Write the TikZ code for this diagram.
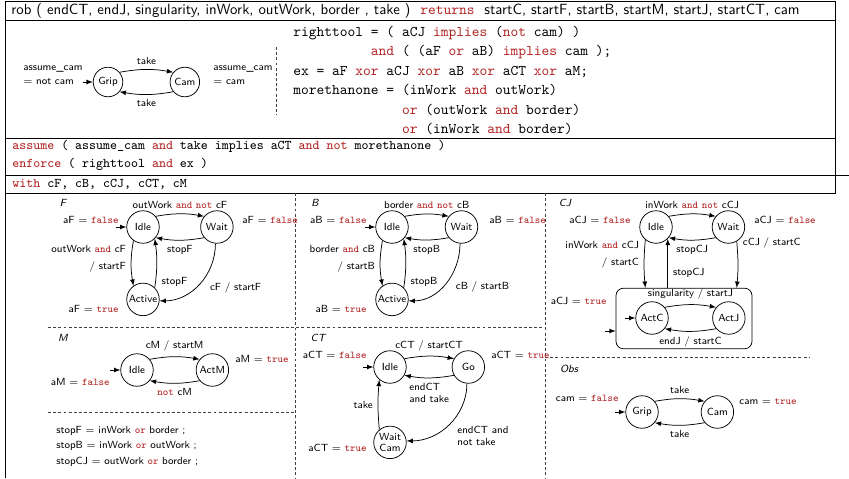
\documentclass[tikz,border=0pt]{standalone}
\usepackage{fontspec}
\usepackage{xcolor}
\usetikzlibrary{automata,positioning}

\definecolor{kwred}{RGB}{178,34,34}
\newcommand{\kw}[1]{\textcolor{kwred}{\texttt{#1}}}

\begin{document}
\begin{tikzpicture}
	[x=0.6766pt,y=-0.6766pt,>=latex,node distance=50pt,on grid,auto,
	font=\scriptsize\sffamily,line width=0.5pt,
	every state/.style={minimum size=22pt,inner sep=0pt},
	initial text={},initial distance=7pt,
	note/.style={inner sep=0pt},
	panel/.style={inner sep=0pt,font=\scriptsize\sffamily\itshape},
	sep/.style={dash pattern=on 2pt off 1.5pt,black!75}]
	\useasboundingbox (0,0) rectangle (849,478);

	% frame
	\draw (5,478) -- (5,1) -- (835,1) -- (835,193) -- (5,193);
	\draw (5,20) -- (835,20);
	\draw (5,138) -- (835,138);
	\draw (5,175) -- (849,175);
	\draw[sep] (276,47) -- (276,115);
	\draw[sep] (295,193) -- (295,478);
	\draw[sep] (545,193) -- (545,478);
	\draw[sep] (48,327) -- (545,327);
	\draw[sep] (545,357) -- (810,357);
	\draw[sep] (48,412) -- (295,412);

	\node[note,anchor=west,font=\normalsize\sffamily] (head) at (11,10.5)
		{rob ( endCT, endJ, singularity, inWork, outWork, border , take )~~\kw{returns}~~startC, startF, startB, startM, startJ, startCT, cam};

	% top automaton
	\node[state,initial,minimum size=20pt] (gripT) at (108,82) {Grip};
	\node[state,minimum size=20pt] (camT) [right=52pt of gripT] {Cam};
	\path[->]
		(gripT.40) edge [bend left=10] node {take} (camT.140)
		(camT.-140) edge [bend left=10] node {take} (gripT.-40);
	\node[note,anchor=west,align=left] (asmL) at (23,75) {assume\_cam\\[1.5pt]$=$ not cam};
	\node[note,anchor=west,align=left] (asmR) at (213,75) {assume\_cam\\[1.5pt]$=$ cam};

	\node[note,anchor=north west,align=left,font=\normalsize\ttfamily] (code) at (293,25.5)
		{righttool = ( aCJ \kw{implies} (\kw{not} cam) )\\[1.2pt]
		\phantom{righttool\ }\kw{and} ( (aF \kw{or} aB) \kw{implies} cam );\\[1.2pt]
		ex = aF \kw{xor} aCJ \kw{xor} aB \kw{xor} aCT \kw{xor} aM;\\[1.2pt]
		morethanone = (inWork \kw{and} outWork)\\[1.2pt]
		\phantom{morethanone\ =\ }\kw{or} (outWork \kw{and} border)\\[1.2pt]
		\phantom{morethanone\ =\ }\kw{or} (inWork \kw{and} border)};

	\node[note,anchor=north west,align=left,font=\small\ttfamily] (spec) at (12,140)
		{\kw{assume} ( assume\_cam \kw{and} take implies aCT \kw{and} \kw{not} morethanone )\\[1pt]
		\kw{enforce} ( righttool \kw{and} ex )};
	\node[note,anchor=west,font=\small\ttfamily] (with) at (12,184) {\kw{with} cF, cB, cCJ, cCT, cM};

	% F
	\node[panel] (capF) at (63,203) {F};
	\node[state,initial] (idleF) at (143,227) {Idle};
	\node[state] (waitF) [right=50pt of idleF] {Wait};
	\node[state] (activeF) [below=49pt of idleF] {Active};
	\path[->]
		(idleF.40) edge [bend left=10] node {outWork \kw{and} \kw{not} cF} (waitF.140)
		(waitF.-140) edge [bend left=10] node {stopF} (idleF.-40)
		(idleF.-125) edge [bend right=10] node [swap,align=right,pos=0.4] {outWork \kw{and} cF\\[3.5pt]/ startF} (activeF.125)
		(activeF.45) edge [bend right=8] node [swap,pos=0.3] {stopF} (idleF.-45)
		(waitF.-95) edge [out=-90,in=0] node [pos=0.4] {cF / startF} (activeF.-5);
	\node[note,anchor=east] (aFa) at (119,220) {aF $=$ \kw{false}};
	\node[note,anchor=west] (aFb) at (242,220) {aF $=$ \kw{false}};
	\node[note,anchor=east] (aFc) at (119,309) {aF $=$ \kw{true}};

	% B
	\node[panel] (capB) at (315,203) {B};
	\node[state,initial] (idleB) at (392,227) {Idle};
	\node[state] (waitB) [right=47pt of idleB] {Wait};
	\node[state] (activeB) [below=49pt of idleB] {Active};
	\path[->]
		(idleB.40) edge [bend left=10] node {border \kw{and} \kw{not} cB} (waitB.140)
		(waitB.-140) edge [bend left=10] node {stopB} (idleB.-40)
		(idleB.-125) edge [bend right=10] node [swap,align=right,pos=0.4] {border \kw{and} cB\\[3.5pt]/ startB} (activeB.125)
		(activeB.45) edge [bend right=8] node [swap,pos=0.3] {stopB} (idleB.-45)
		(waitB.-95) edge [out=-90,in=0] node [pos=0.4] {cB / startB} (activeB.-5);
	\node[note,anchor=east] (aBa) at (367,220) {aB $=$ \kw{false}};
	\node[note,anchor=west] (aBb) at (489,220) {aB $=$ \kw{false}};
	\node[note,anchor=east] (aBc) at (367,309) {aB $=$ \kw{true}};

	% CJ
	\node[panel] (capCJ) at (565,203) {CJ};
	\node[state] (idleCJ) at (656,227) {Idle};
	\node[state] (waitCJ) [right=49pt of idleCJ] {Wait};
	\node[draw,rounded corners=5pt,minimum width=92pt,minimum height=41pt] (boxCJ) at (684,318.5) {};
	\node[state,initial] (actC) at (652,318) {ActC};
	\node[state] (actJ) [right=52pt of actC] {ActJ};
	\coordinate (inCJ) at (605,331);
	\draw[->] (inCJ) -- (inCJ -| boxCJ.west);
	\path[->]
		(idleCJ.40) edge [bend left=10] node {inWork \kw{and} \kw{not} cCJ} (waitCJ.140)
		(waitCJ.-140) edge [bend left=10] node {stopCJ} (idleCJ.-40)
		(idleCJ.-130) edge [bend right=5] node [swap,align=right,pos=0.3] {inWork \kw{and} cCJ\\[3.5pt]/ startC} (idleCJ.-130 |- boxCJ.north)
		(boxCJ.north -| idleCJ.-45) edge node [swap,pos=0.3] {stopCJ} (idleCJ.-45)
		(waitCJ.-60) edge [bend left=5] node [pos=0.25] {cCJ / startC} (waitCJ.-60 |- boxCJ.north)
		(actC.40) edge [bend left=10] node {singularity / startJ} (actJ.140)
		(actJ.-140) edge [bend left=10] node {endJ / startC} (actC.-40);
	\node[note,anchor=east] (aCJa) at (631,220) {aCJ $=$ \kw{false}};
	\node[note,anchor=west] (aCJb) at (754,220) {aCJ $=$ \kw{false}};
	\node[note,anchor=east] (aCJc) at (607,301) {aCJ $=$ \kw{true}};

	% M
	\node[panel] (capM) at (63,338) {M};
	\node[state,initial] (idleM) at (137,370) {Idle};
	\node[state] (actM) [right=51pt of idleM] {ActM};
	\path[->]
		(idleM.40) edge [bend left=10] node {cM / startM} (actM.140)
		(actM.-140) edge [bend left=10] node {\kw{not} cM} (idleM.-40);
	\node[note,anchor=west] (aMa) at (235,359) {aM $=$ \kw{true}};
	\node[note,anchor=east] (aMb) at (110,382) {aM $=$ \kw{false}};

	\node[note,anchor=west,align=left] (stops) at (56,446)
		{stopF $=$ inWork \kw{or} border ;\\[2.5pt]
		stopB $=$ inWork \kw{or} outWork ;\\[2.5pt]
		stopCJ $=$ outWork \kw{or} border ;};

	% CT
	\node[panel] (capCT) at (318,338) {CT};
	\node[state,initial] (idleCT) at (390,367) {Idle};
	\node[state] (goCT) [right=53pt of idleCT] {Go};
	\node[state,align=center] (waitCT) [below=51pt of idleCT] {Wait\\Cam};
	\path[->]
		(idleCT.30) edge [bend left=10] node {cCT / startCT} (goCT.150)
		(goCT.-150) edge [bend left=10] node [align=left] {endCT\\and take} (idleCT.-30)
		(goCT.-95) edge [out=-90,in=0] node [align=left,pos=0.45] {endCT and\\not take} (waitCT.5)
		(waitCT.130) edge [bend left=5] node {take} (idleCT.-130);
	\node[note,anchor=east] (aCTa) at (367,355) {aCT $=$ \kw{false}};
	\node[note,anchor=west] (aCTb) at (491,355) {aCT $=$ \kw{true}};
	\node[note,anchor=east] (aCTc) at (367,448) {aCT $=$ \kw{true}};

	% Obs
	\node[panel] (capObs) at (569,369) {Obs};
	\node[state,initial] (gripO) at (642,412) {Grip};
	\node[state] (camO) [right=51pt of gripO] {Cam};
	\path[->]
		(gripO.40) edge [bend left=10] node {take} (camO.140)
		(camO.-140) edge [bend left=10] node {take} (gripO.-40);
	\node[note,anchor=east] (obsF) at (619,398) {cam $=$ \kw{false}};
	\node[note,anchor=west] (obsT) at (739,402) {cam $=$ \kw{true}};
\end{tikzpicture}
\end{document}
